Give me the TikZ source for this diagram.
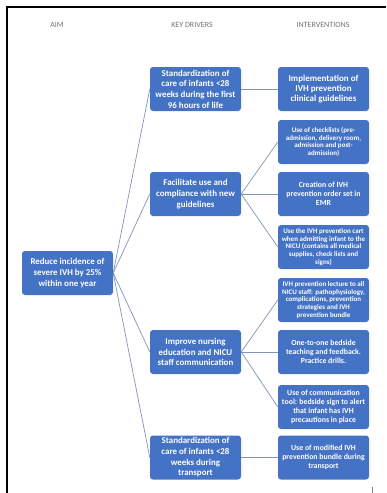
\documentclass[tikz,border=0pt]{standalone}
\usepackage{fontspec}
\setmainfont{Carlito}
\definecolor{boxblue}{HTML}{4472C4}
\definecolor{linkgray}{HTML}{8094B4}
\tikzset{
  card/.style={rectangle, rounded corners=3pt, fill=boxblue, text=white,
    minimum width=91pt, minimum height=44pt, inner sep=1pt, align=center},
  big/.style={font=\bfseries\fontsize{8.9}{10.7}\selectfont},
  mid/.style={font=\bfseries\fontsize{7.8}{9.1}\selectfont},
  tiny/.style={font=\bfseries\fontsize{7}{7.8}\selectfont},
  head/.style={text=black!55, font=\fontsize{8}{9}\selectfont},
  link/.style={draw=linkgray, line width=0.7pt}
}

\begin{document}
\begin{tikzpicture}[x=1pt, y=-1pt]

\def\xaim{67.5}
\def\xdrv{195.5}
\def\xint{323.5}

\useasboundingbox (0,0) rectangle (386,493);
\draw[line width=2.5pt] (7,493) -- (7,7) -- (386,7);
\draw[black!50, line width=0.8pt] (372,487) -- (372,493);

\node[head] (haim) at (57,25) {AIM};
\node[head] (hdrv) at (192,25) {KEY DRIVERS};
\node[head] (hint) at (323,25) {INTERVENTIONS};

\node[card, big] (aim) at (\xaim,273) {Reduce incidence of\\severe IVH by 25\%\\within one year};

\node[card, big] (drv1) at (\xdrv,89) {Standardization of\\care of infants <28\\weeks during the first\\96 hours of life};
\node[card, big] (drv2) at (\xdrv,194) {Facilitate use and\\compliance with new\\guidelines};
\node[card, big] (drv3) at (\xdrv,352) {Improve nursing\\education and NICU\\staff communication};
\node[card, big] (drv4) at (\xdrv,457.5) {Standardization of\\care of infants <28\\weeks during\\transport};

\node[card, font=\bfseries\fontsize{9}{9.8}\selectfont] (int1) at (\xint,89) {Implementation of\\IVH prevention\\clinical guidelines};
\node[card, tiny] (int2) at (\xint,142) {Use of checklists (pre-\\admission, delivery room,\\admission and post-\\admission)};
\node[card, mid] (int3) at (\xint,194) {Creation of IVH\\prevention order set in\\EMR};
\node[card, tiny] (int4) at (\xint,247) {Use the IVH prevention cart\\when admitting infant to the\\NICU (contains all medical\\supplies, check lists and\\signs)};
\node[card, tiny] (int5) at (\xint,300) {IVH prevention lecture to all\\NICU staff: pathophysiology,\\complications, prevention\\strategies and IVH\\prevention bundle};
\node[card, mid] (int6) at (\xint,352) {One-to-one bedside\\teaching and feedback.\\Practice drills.};
\node[card, mid] (int7) at (\xint,407) {Use of communication\\tool: bedside sign to alert\\that infant has IVH\\precautions in place};
\node[card, mid] (int8) at (\xint,457.5) {Use of modified IVH\\prevention bundle during\\transport};

\foreach \d in {1,...,4}
  \draw[link] (aim.east) -- (drv\d.west);
\foreach \d/\i in {1/1, 2/2, 2/3, 2/4, 3/5, 3/6, 3/7, 4/8}
  \draw[link] (drv\d.east) -- (int\i.west);

\end{tikzpicture}
\end{document}
